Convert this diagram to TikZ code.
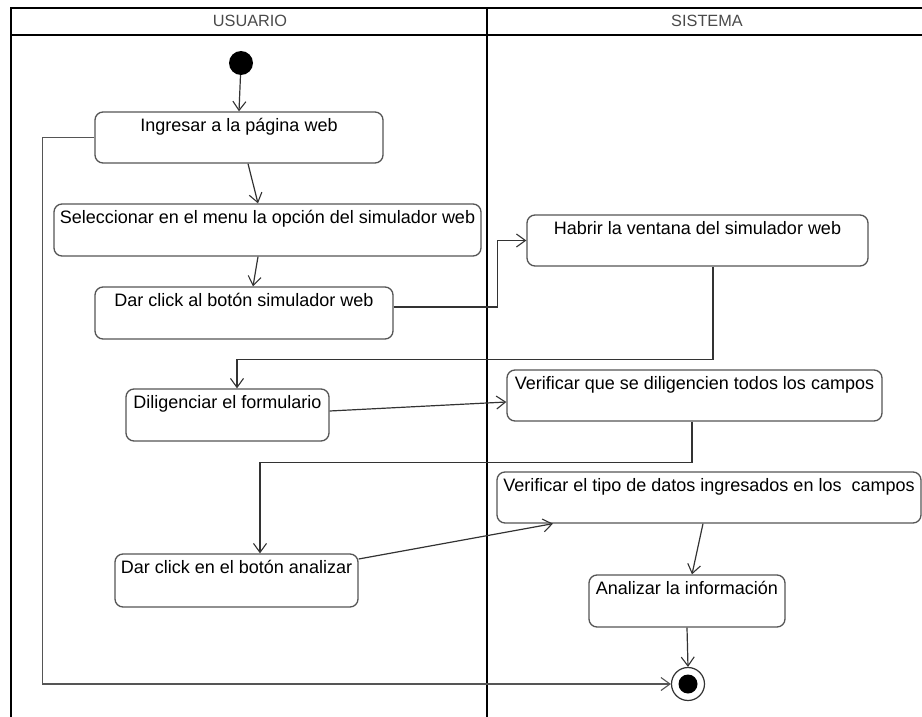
\documentclass[tikz,border=0pt]{standalone}
\usepackage{fontspec}
\setmainfont{Liberation Sans}
\usetikzlibrary{arrows.meta,calc}
\definecolor{boxline}{HTML}{555555}
\definecolor{conline}{HTML}{333333}
\definecolor{hdrtext}{HTML}{4A4A4A}
\tikzset{
  actbox/.style={draw=boxline, line width=1.3pt, rounded corners=8pt, fill=white, inner sep=0pt},
  acttext/.style={font=\fontsize{18}{20}\selectfont, text=black, inner sep=0pt, anchor=north},
  conn/.style={draw=conline, line width=1.2pt, -{Straight Barb[length=9pt,width=13pt,line width=1.1pt]}},
  loopline/.style={draw=boxline, line width=1.6pt, -{Straight Barb[length=9pt,width=13pt,line width=1.1pt]}},
  lane/.style={draw=black, line width=1.9pt},
  hdr/.style={font=\fontsize{16.3}{18}\selectfont, text=hdrtext, inner sep=0pt},
}
\begin{document}
\begin{tikzpicture}[x=1pt,y=-1pt]
\useasboundingbox (0,0) rectangle (922,717);
% swimlanes
\draw[lane] (11,717) -- (11,8) -- (922,8);
\draw[lane] (11,35) -- (922,35);
\draw[lane] (487,8) -- (487,717);
\node[hdr] (husr) at (250,21) {USUARIO};
\node[hdr] (hsis) at (707,21) {SISTEMA};
% start / end
\node[circle, fill=black, minimum size=24pt, inner sep=0pt] (start) at (241,63) {};
\node[circle, draw=conline, line width=1.2pt, fill=white, minimum size=33pt, inner sep=0pt] (final) at (688,684) {};
\node[circle, fill=black, minimum size=19pt, inner sep=0pt] (finaldot) at (688,684) {};
% activities
\node[actbox, minimum width=288pt, minimum height=51pt] (ingresar) at (239,137.5) {};
\node[acttext] (tingresar) at ($(ingresar.north)+(0,7)$) {Ingresar a la página web};
\node[actbox, minimum width=427pt, minimum height=52pt] (selecc) at (267.5,230) {};
\node[acttext] (tselecc) at ($(selecc.north)+(0,7)$) {Seleccionar en el menu la opción del simulador web};
\node[actbox, minimum width=298pt, minimum height=52pt] (click1) at (244,313) {};
\node[acttext] (tclick1) at ($(click1.north)+(0,7)$) {Dar click al botón simulador web};
\node[actbox, minimum width=341pt, minimum height=51pt] (habrir) at (697.5,240.5) {};
\node[acttext] (thabrir) at ($(habrir.north)+(0,7)$) {Habrir la ventana del simulador web};
\node[actbox, minimum width=203pt, minimum height=52pt] (dilig) at (227.5,415) {};
\node[acttext] (tdilig) at ($(dilig.north)+(0,7)$) {Diligenciar el formulario};
\node[actbox, minimum width=375pt, minimum height=51pt] (verif1) at (694.5,395.5) {};
\node[acttext] (tverif1) at ($(verif1.north)+(0,7)$) {Verificar que se diligencien todos los campos};
\node[actbox, minimum width=424pt, minimum height=51pt] (verif2) at (709,497.5) {};
\node[acttext] (tverif2) at ($(verif2.north)+(0,7)$) {Verificar el tipo de datos ingresados en los\ \ campos};
\node[actbox, minimum width=243pt, minimum height=53pt] (click2) at (236.5,580.5) {};
\node[acttext] (tclick2) at ($(click2.north)+(0,7)$) {Dar click en el botón analizar};
\node[actbox, minimum width=196pt, minimum height=52pt] (analiz) at (687,601) {};
\node[acttext] (tanaliz) at ($(analiz.north)+(0,7)$) {Analizar la información};
% connectors
\draw[conn] (start) -- (ingresar.north);
\draw[conn] ($(ingresar.south)+(9,0)$) -- ($(selecc.north)+(-9.5,0)$);
\draw[conn] ($(selecc.south)+(-9.5,0)$) -- ($(click1.north)+(9,0)$);
\draw[conn] ($(click1.east)+(0,-6)$) -- ++(104,0) |- (habrir.west);
\draw[conn] ($(habrir.south)+(15.5,0)$) -- ++(0,93) -| ($(dilig.north)+(9.5,0)$);
\draw[conn] ($(dilig.east)+(0,-4)$) -- ($(verif1.west)+(0,6.5)$);
\draw[conn] ($(verif1.south)+(-2.5,0)$) -- ++(0,41) -| ($(click2.north)+(23.5,0)$);
\draw[conn] ($(click2.east)+(0,-21.5)$) -- ($(verif2.south)+(-156,0)$);
\draw[conn] ($(verif2.south)+(-6,0)$) -- ($(analiz.north)+(5,0)$);
\draw[conn] (analiz.south) -- (final.north);
\draw[loopline] (ingresar.west) -- ++(-52,0) |- (final.west);
\end{tikzpicture}
\end{document}
